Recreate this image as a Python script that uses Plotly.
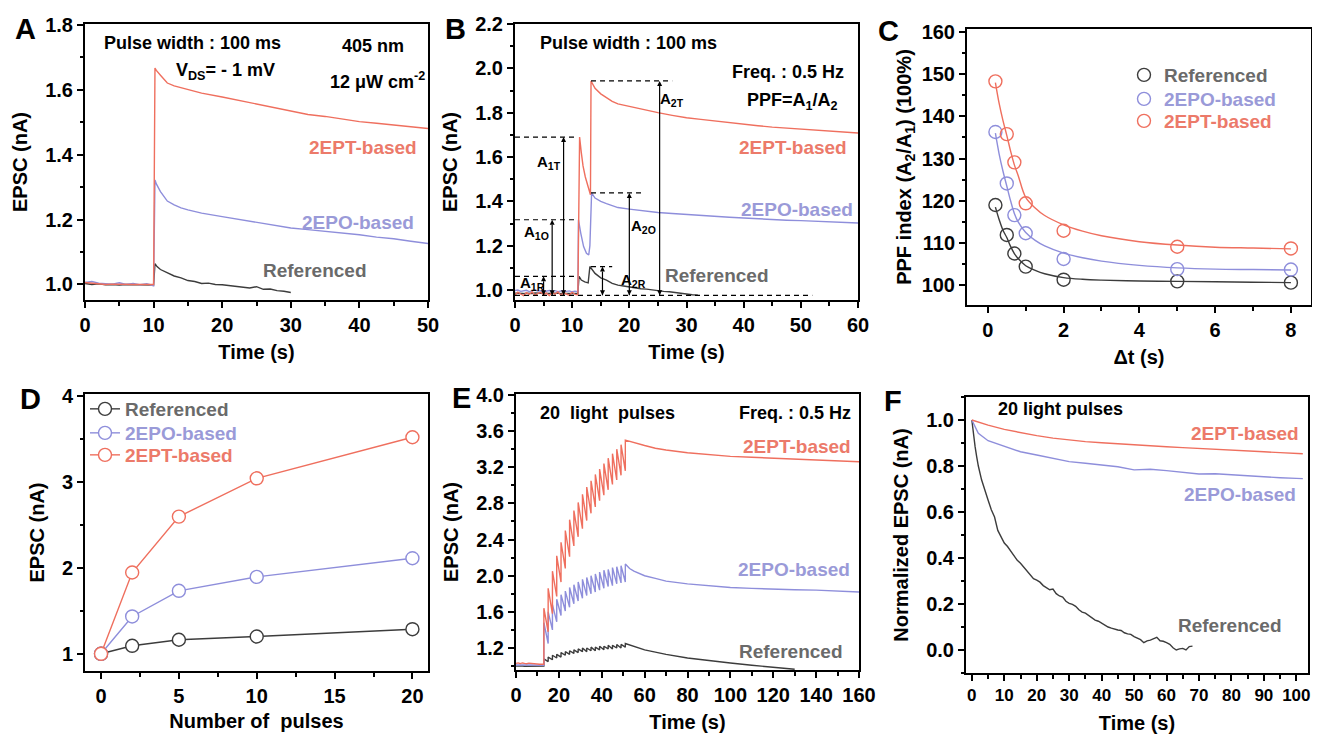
import plotly.graph_objects as go

FONT = "Liberation Sans, Arial, sans-serif"
RED = "#EF6F5E"
BLUE = "#8E8EDB"
GRAY = "#3C3C3C"
RED_T = "#EC7A6A"
BLUE_T = "#9A9AD8"
GRAY_T = "#6A6A6A"
# the page body has an 8 px margin, so the figure is placed 8 px in from the window corner
OFF = 8
W, H = 1320 - OFF, 734 - OFF

# ---------------- Panel A data ----------------
a_t = [0, 1, 2, 3, 4, 5, 6, 7, 8, 9, 10, 10.2, 10.4, 11, 12, 13, 14, 15, 17, 20, 22.5, 25, 27.5,
       30, 32.5, 35, 37.5, 40, 42.5, 45, 47.5, 50]
a_ept = [1.006, 1.004, 1.002, 1.0, 1.001, 1.0, 0.999, 1.0, 1.0, 0.999, 1.0, 1.667, 1.66, 1.645, 1.621,
         1.612, 1.606, 1.601, 1.59, 1.578, 1.567, 1.556, 1.544, 1.533, 1.524, 1.518, 1.51, 1.502,
         1.497, 1.491, 1.486, 1.481]
a_epo = [1.006, 1.009, 1.004, 1.003, 1.001, 1.005, 1.0, 1.003, 0.999, 1.002, 0.996, 1.322, 1.31,
         1.286, 1.257, 1.245, 1.236, 1.23, 1.22, 1.209, 1.2, 1.193, 1.183, 1.174, 1.169, 1.164,
         1.158, 1.153, 1.146, 1.141, 1.133, 1.126]
a_t_ref = [0, 1, 2, 3, 4, 5, 6, 7, 8, 9, 10, 10.2, 10.5, 11, 12, 13, 14, 15, 16, 17, 18, 19, 20,
           21, 22, 23, 24, 25, 26, 27, 28, 29, 30]
a_ref = [1.003, 1.0, 1.002, 0.999, 1.0, 0.998, 1.0, 0.999, 0.998, 0.999, 0.998, 1.064, 1.055,
         1.046, 1.035, 1.026, 1.02, 1.012, 1.009, 1.003, 1.004, 1.0, 0.999, 0.997, 0.995, 0.992,
         0.989, 0.993, 0.985, 0.986, 0.981, 0.979, 0.975]

# ---------------- Panel B data ----------------
b_base_t = [0, 0.5, 1, 1.5, 2, 2.5, 3, 3.5, 4, 4.5, 5, 5.5, 6, 6.5, 7, 7.5, 8, 8.5, 9, 9.5, 10,
            10.5, 11]
b_ept_base = [0.978, 0.99, 0.982, 0.975, 0.988, 0.98, 0.992, 0.976, 0.985, 0.99, 0.979, 0.986,
              0.975, 0.989, 0.981, 0.992, 0.977, 0.987, 0.982, 0.976, 0.99, 0.98, 0.978]
b_epo_base = [0.998, 1.0, 0.994, 0.997, 0.999, 0.993, 0.996, 1.0, 0.995, 0.997, 0.992, 0.996,
              0.998, 0.994, 0.997, 0.993, 0.995, 0.998, 0.994, 0.996, 0.992, 0.995, 0.993]
b_ref_base = [0.986, 0.985, 0.987, 0.984, 0.986, 0.985, 0.984, 0.987, 0.985, 0.986, 0.984, 0.985,
              0.986, 0.984, 0.985, 0.986, 0.984, 0.985, 0.986, 0.985, 0.984, 0.986, 0.985]
b_ept_t = [11.3, 11.6, 11.9, 12.3, 12.8, 13.2, 13.3, 14, 15, 16, 17, 18, 20, 22.5, 25, 27.5, 30,
           32.5, 35, 37.5, 40, 42.5, 45, 47.5, 50, 52.5, 55, 57.5, 60]
b_ept = [1.69, 1.62, 1.56, 1.51, 1.46, 1.43, 1.943, 1.91, 1.885, 1.866, 1.851, 1.84, 1.828, 1.812,
         1.8, 1.788, 1.777, 1.77, 1.762, 1.755, 1.747, 1.741, 1.735, 1.731, 1.727, 1.722, 1.717,
         1.713, 1.708]
b_epo_t = [11.1, 11.5, 12, 12.5, 12.9, 13.1, 13.4, 14, 15, 16, 17, 18, 20, 22.5, 25, 27.5, 30,
           32.5, 35, 37.5, 40, 42.5, 45, 47.5, 50, 52.5, 55, 57.5, 60]
b_epo = [1.317, 1.257, 1.196, 1.166, 1.158, 1.2, 1.438, 1.415, 1.4, 1.39, 1.38, 1.372, 1.365,
         1.357, 1.35, 1.345, 1.34, 1.336, 1.332, 1.328, 1.325, 1.321, 1.317, 1.315, 1.313, 1.311,
         1.308, 1.305, 1.302]
b_ref_t = [11.2, 11.6, 12.2, 12.8, 13.1, 13.5, 14, 15, 16, 17, 18, 19, 20, 21, 22, 23, 24, 25, 26,
           27, 28, 29, 30, 31, 32]
b_ref = [1.062, 1.045, 1.037, 1.032, 1.106, 1.09, 1.075, 1.055, 1.045, 1.03, 1.022, 1.018, 1.013,
         1.01, 1.006, 1.004, 1.0, 0.997, 0.994, 0.992, 0.988, 0.985, 0.982, 0.979, 0.977]
# amplitude guides (A1 / A2 for R, O, T)
b_base_level = 0.976
b_base_end = 52
b_a1_levels = [1.062, 1.317, 1.69]
b_a1_x = [5.0, 6.5, 8.5]
b_a1_end = 11
b_a2_start = 13.3
b_a2_levels = [1.106, 1.438, 1.943]
b_a2_x = [15.3, 20.0, 25.3]
b_a2_end = [17.0, 22.5, 27.5]
b_a1_labels = ["A<sub>1R</sub>", "A<sub>1O</sub>", "A<sub>1T</sub>"]
b_a2_labels = ["A<sub>2R</sub>", "A<sub>2O</sub>", "A<sub>2T</sub>"]
b_a1_lab_xy = [(3.1, 1.03), (3.8, 1.26), (5.9, 1.575)]
b_a2_lab_xy = [(20.8, 1.045), (22.4, 1.285), (27.5, 1.86)]

# ---------------- Panel C data ----------------
c_dt = [0.2, 0.5, 0.7, 1, 2, 5, 8]
c_ref = [119.0, 111.9, 107.5, 104.4, 101.3, 100.9, 100.6]
c_epo = [136.3, 124.1, 116.6, 112.3, 106.2, 103.8, 103.7]
c_ept = [148.3, 135.8, 129.1, 119.4, 112.9, 109.1, 108.7]
c_fit_t = [0.2, 0.3, 0.4, 0.5, 0.6, 0.7, 0.8, 1.0, 1.25, 1.5, 2, 2.5, 3, 4, 5, 6, 7, 8]
c_fit_ept = [148, 143, 139, 135.5, 131.8, 128.5, 126, 120.8, 118.3, 116.5, 114.3, 112.8, 111.7,
             110.3, 109.5, 109.0, 108.8, 108.6]
c_fit_epo = [136, 131, 127, 123.5, 120, 117, 115, 112.5, 110.6, 109.3, 107.6, 106.5, 105.7, 104.7,
             104.1, 103.8, 103.7, 103.6]
c_fit_ref = [118.5, 115.5, 113, 111.3, 109.2, 107.5, 106.3, 104.6, 103.5, 102.7, 101.8, 101.4,
             101.2, 101.0, 100.9, 100.8, 100.7, 100.6]

# ---------------- Panel D data ----------------
d_n = [0, 2, 5, 10, 20]
d_ref = [1.0, 1.093, 1.163, 1.201, 1.286]
d_epo = [1.0, 1.434, 1.732, 1.894, 2.111]
d_ept = [1.0, 1.945, 2.595, 3.04, 3.517]

# ---------------- Panel E data ----------------
e_pre_t = [0, 1, 2, 3, 4, 5, 6, 7, 8, 9, 10, 11, 12, 13]
e_ept_pre = [1.03, 1.036, 1.028, 1.035, 1.03, 1.026, 1.033, 1.029, 1.024, 1.027, 1.022, 1.02,
             1.021, 1.02]
e_epo_pre = [1.012, 1.016, 1.014, 1.012, 1.015, 1.011, 1.013, 1.012, 1.01, 1.012, 1.011, 1.01,
             1.011, 1.01]
e_ref_pre = [1.0, 1.002, 1.0, 1.001, 0.999, 1.0, 1.001, 1.0, 0.999, 1.0, 1.0, 0.999, 1.0, 1.0]
e_pulse_t = [13, 15, 17, 19, 21, 23, 25, 27, 29, 31, 33, 35, 37, 39, 41, 43, 45, 47, 49, 51]
e_ept_peak = [1.64, 1.86, 2.05, 2.22, 2.37, 2.5, 2.62, 2.72, 2.81, 2.9, 2.98, 3.05, 3.12, 3.18,
              3.24, 3.3, 3.35, 3.4, 3.45, 3.5]
e_ept_trough = [1.38, 1.58, 1.77, 1.93, 2.08, 2.21, 2.33, 2.43, 2.52, 2.61, 2.69, 2.76, 2.83,
                2.89, 2.95, 3.01, 3.06, 3.11, 3.16]
e_epo_peak = [1.48, 1.6, 1.68, 1.74, 1.79, 1.83, 1.87, 1.9, 1.93, 1.96, 1.98, 2.0, 2.02, 2.04,
              2.06, 2.07, 2.09, 2.1, 2.11, 2.13]
e_epo_trough = [1.25, 1.4, 1.49, 1.56, 1.61, 1.65, 1.69, 1.72, 1.75, 1.78, 1.8, 1.82, 1.84, 1.86,
                1.88, 1.89, 1.91, 1.92, 1.93]
e_ref_peak = [1.08, 1.1, 1.12, 1.13, 1.15, 1.16, 1.17, 1.18, 1.19, 1.2, 1.2, 1.21, 1.21, 1.22,
              1.22, 1.23, 1.23, 1.24, 1.24, 1.25]
e_ref_trough = [1.05, 1.07, 1.09, 1.1, 1.12, 1.13, 1.14, 1.15, 1.16, 1.16, 1.17, 1.17, 1.18, 1.18,
                1.19, 1.19, 1.2, 1.2, 1.21]
e_post_t = [53, 55, 60, 65, 70, 80, 90, 100, 110, 120, 130, 140, 150, 160]
e_ept_post = [3.485, 3.47, 3.44, 3.41, 3.39, 3.36, 3.34, 3.32, 3.31, 3.3, 3.29, 3.28, 3.27, 3.26]
e_epo_post = [2.08, 2.05, 2.0, 1.97, 1.94, 1.91, 1.89, 1.87, 1.86, 1.85, 1.845, 1.84, 1.83, 1.82]
e_ref_post_t = [53, 55, 60, 65, 70, 80, 90, 100, 110, 120, 130]
e_ref_post = [1.235, 1.22, 1.18, 1.155, 1.13, 1.09, 1.06, 1.035, 1.01, 0.988, 0.965]

# ---------------- Panel F data ----------------
f_t = [0, 2, 5, 10, 15, 20, 25, 30, 35, 40, 45, 50, 55, 60, 65, 70, 75, 80, 85, 90, 95, 100, 102]
f_ept = [1.0, 0.99, 0.978, 0.959, 0.944, 0.932, 0.921, 0.913, 0.906, 0.901, 0.896, 0.891, 0.887,
         0.884, 0.88, 0.877, 0.873, 0.87, 0.866, 0.862, 0.858, 0.855, 0.853]
f_epo = [1.0, 0.942, 0.91, 0.887, 0.862, 0.848, 0.833, 0.819, 0.812, 0.804, 0.797, 0.783, 0.786,
         0.78, 0.772, 0.765, 0.766, 0.761, 0.756, 0.751, 0.749, 0.746, 0.745]
f_ref_t = [0, 0.5, 1, 1.5, 2, 3, 4, 5, 6, 7, 8, 9, 10, 11, 12, 13, 14, 15, 16, 17, 18, 19, 20, 21,
           22, 23, 24, 25, 26, 27, 28, 29, 30, 31, 32, 33, 34, 35, 36, 37, 38, 39, 40, 41, 42, 43,
           44, 45, 46, 47, 48, 49, 50, 51, 52, 53, 54, 55, 56, 57, 58, 59, 60, 61, 62, 63, 64, 65,
           66, 67, 68]
f_ref = [1.0, 0.93, 0.884, 0.84, 0.8, 0.74, 0.69, 0.652, 0.61, 0.578, 0.52, 0.49, 0.465, 0.45,
         0.428, 0.41, 0.39, 0.377, 0.36, 0.345, 0.33, 0.31, 0.304, 0.295, 0.28, 0.27, 0.262, 0.265,
         0.245, 0.235, 0.23, 0.212, 0.203, 0.198, 0.19, 0.175, 0.165, 0.16, 0.15, 0.14, 0.13,
         0.125, 0.116, 0.11, 0.1, 0.095, 0.09, 0.087, 0.085, 0.075, 0.07, 0.068, 0.058, 0.05,
         0.045, 0.032, 0.04, 0.043, 0.05, 0.055, 0.04, 0.038, 0.032, 0.025, 0.01, 0.0, 0.005,
         0.007, 0.0, 0.015, 0.017]

SERIES = ["Referenced", "2EPO-based", "2EPT-based"]


def sawtooth(pre_t, pre_y, pulse_t, peaks, troughs, post_t, post_y):
    xs, ys = list(pre_t), list(pre_y)
    for k, t in enumerate(pulse_t):
        if k > 0:
            xs.append(t)
            ys.append(troughs[k - 1])
        xs.append(t)
        ys.append(peaks[k])
    return xs + list(post_t), ys + list(post_y)


fig = go.Figure()


def line(x, y, color, ax, width=1.4):
    fig.add_trace(go.Scatter(x=x, y=y, mode="lines", line=dict(color=color, width=width),
                             xaxis="x" + ax, yaxis="y" + ax, showlegend=False))


# A
line(a_t_ref, a_ref, GRAY, "")
line(a_t, a_epo, BLUE, "")
line(a_t, a_ept, RED, "")
# B
line(b_base_t + b_ref_t, b_ref_base + b_ref, GRAY, "2")
line(b_base_t + b_epo_t, b_epo_base + b_epo, BLUE, "2")
line(b_base_t + b_ept_t, b_ept_base + b_ept, RED, "2")
# B double-headed amplitude arrows
for xs_, lv_ in [(b_a1_x, b_a1_levels), (b_a2_x, b_a2_levels)]:
    for xa, lvl in zip(xs_, lv_):
        fig.add_trace(go.Scatter(x=[xa, xa], y=[b_base_level, lvl], mode="lines+markers",
                                 line=dict(color="black", width=1.2),
                                 marker=dict(symbol=["arrow-down", "arrow-up"], size=5,
                                             color="black"),
                                 xaxis="x2", yaxis="y2", showlegend=False))
# C
for fit, col in [(c_fit_ref, GRAY), (c_fit_epo, BLUE), (c_fit_ept, RED)]:
    fig.add_trace(go.Scatter(x=c_fit_t, y=fit, mode="lines",
                             line=dict(color=col, width=1.4, shape="spline"),
                             xaxis="x3", yaxis="y3", showlegend=False))
for i, (pts, col, tcol) in enumerate([(c_ref, GRAY, GRAY_T), (c_epo, BLUE, BLUE_T),
                                      (c_ept, RED, RED_T)]):
    fig.add_trace(go.Scatter(x=c_dt, y=pts, mode="markers",
                             marker=dict(symbol="circle", size=13, color="rgba(255,255,255,0)",
                                         line=dict(width=1.4, color=col)),
                             name=f"<span style='color:{tcol}'>{SERIES[i]}</span>",
                             xaxis="x3", yaxis="y3",
                             legend="legend" if i == 0 else f"legend{i + 1}"))
# D
for i, (pts, col, tcol) in enumerate([(d_ref, GRAY, GRAY_T), (d_epo, BLUE, BLUE_T),
                                      (d_ept, RED, RED_T)]):
    fig.add_trace(go.Scatter(x=d_n, y=pts, mode="lines+markers",
                             line=dict(color=col, width=1.4),
                             marker=dict(symbol="circle", size=13, color="white",
                                         line=dict(width=1.4, color=col)),
                             name=f"<span style='color:{tcol}'>{SERIES[i]}</span>",
                             xaxis="x4", yaxis="y4", legend=f"legend{i + 4}"))
# E
ex, ey = sawtooth(e_pre_t, e_ref_pre, e_pulse_t, e_ref_peak, e_ref_trough, e_ref_post_t, e_ref_post)
line(ex, ey, GRAY, "5")
ex, ey = sawtooth(e_pre_t, e_epo_pre, e_pulse_t, e_epo_peak, e_epo_trough, e_post_t, e_epo_post)
line(ex, ey, BLUE, "5")
ex, ey = sawtooth(e_pre_t, e_ept_pre, e_pulse_t, e_ept_peak, e_ept_trough, e_post_t, e_ept_post)
line(ex, ey, RED, "5")
# F
line(f_ref_t, f_ref, GRAY, "6")
line(f_t, f_epo, BLUE, "6")
line(f_t, f_ept, RED, "6")


# helpers: convert window pixel positions to paper fractions
def px(x):
    return (x - OFF) / W


def py(y):
    return 1 - (y - OFF) / H


def dom_x(l, r):
    return [px(l), px(r)]


def dom_y(top, bottom):
    return [py(bottom), py(top)]


def axis(domain, rng, dtick, minor, anchor, title=None, standoff=None, tick0=None, fmt=None,
         tsize=20):
    d = dict(domain=domain, range=rng, dtick=dtick, anchor=anchor, automargin=False,
             showline=True, linewidth=2, linecolor="black", mirror=True, ticks="outside",
             ticklen=6, tickwidth=1.8, tickcolor="black", showgrid=False, zeroline=False,
             ticklabeloverflow="allow",
             minor=dict(ticks="outside", ticklen=3.5, tickwidth=1.5, dtick=minor,
                        tickcolor="black"),
             tickfont=dict(family=FONT, size=tsize, color="black", weight="bold"))
    if tick0 is not None:
        d["tick0"] = tick0
        d["minor"]["tick0"] = tick0
    if fmt:
        d["tickformat"] = fmt
    if title:
        d["title"] = dict(text=title, font=dict(family=FONT, size=20, color="black",
                                                 weight="bold"), standoff=standoff)
    return d


def legend_at(x, y):
    return dict(x=px(x), y=py(y), xanchor="left", yanchor="middle",
                bgcolor="rgba(0,0,0,0)", borderwidth=0,
                font=dict(family=FONT, size=19, color="black", weight="bold"))


layout = dict(
    template="none",
    width=W, height=H, margin=dict(l=0, r=0, t=0, b=0, pad=0), paper_bgcolor="white",
    plot_bgcolor="white", font=dict(family=FONT, color="black"),
    xaxis=axis(dom_x(85, 428), [0, 50], 10, 5, "y", "Time (s)", 10),
    yaxis=axis(dom_y(24, 300), [0.952, 1.803], 0.2, 0.1, "x", "EPSC (nA)", 12, tick0=1.0,
               fmt=".1f"),
    xaxis2=axis(dom_x(515, 858), [0, 60], 10, 5, "y2", "Time (s)", 10),
    yaxis2=axis(dom_y(24, 300), [0.955, 2.2], 0.2, 0.1, "x2", "EPSC (nA)", 12, tick0=1.0,
                fmt=".1f"),
    xaxis3=axis(dom_x(967, 1311), [-0.55, 8.53], 2, 1, "y3", "\u0394t (s)", 10),
    yaxis3=axis(dom_y(29, 305), [95.3, 160.7], 10, 5, "x3",
                "PPF index (A<sub>2</sub>/A<sub>1</sub>) (100%)", 5),
    xaxis4=axis(dom_x(85, 428), [-1.03, 21.0], 5, 2.5, "y4", "Number of\u00a0 pulses", 8),
    yaxis4=axis(dom_y(394, 671), [0.8, 4.02], 1, 0.5, "x4", "EPSC (nA)", 12),
    xaxis5=axis(dom_x(516, 859), [0, 160], 20, 10, "y5", "Time (s)", 10),
    yaxis5=axis(dom_y(394, 670), [0.957, 4.01], 0.4, 0.2, "x5", "EPSC (nA)", 12, tick0=1.2,
                fmt=".1f"),
    xaxis6=axis(dom_x(966, 1308), [-1.8, 103.6], 10, 5, "y6", "Time (s)", 12, tsize=17),
    yaxis6=axis(dom_y(397, 673), [-0.1, 1.1], 0.2, 0.1, "x6", "Normalized EPSC (nA)", 12,
                fmt=".1f"),
    legend=legend_at(1124, 75), legend2=legend_at(1124, 99), legend3=legend_at(1124, 121),
    legend4=legend_at(85, 409), legend5=legend_at(85, 433), legend6=legend_at(85, 455),
)
fig.update_layout(**layout)


def txt(s, x, y, size=19, color="black", xanchor="center"):
    return dict(text=s, x=px(x), y=py(y), xref="paper", yref="paper", showarrow=False,
                xanchor=xanchor, yanchor="middle",
                font=dict(family=FONT, size=size, color=color, weight="bold"))


ann = [
    txt("A", 25, 29, 29), txt("B", 455, 29, 29), txt("C", 888, 31, 29),
    txt("D", 30, 399, 29), txt("E", 461, 398, 29), txt("F", 893, 401, 29),
    # A
    txt("Pulse width : 100 ms", 192, 43, 18), txt("405 nm", 373, 46, 18),
    txt("V<sub>DS</sub>= - 1 mV", 225, 71, 18), txt("12 \u03bcW cm<sup>-2</sup>", 378, 80, 18),
    txt("2EPT-based", 363, 147, 19, RED_T), txt("2EPO-based", 358, 222, 19, BLUE_T),
    txt("Referenced", 315, 270, 19, GRAY_T),
    # B
    txt("Pulse width : 100 ms", 628, 43, 18), txt("Freq. : 0.5 Hz", 788, 72, 18),
    txt("PPF=A<sub>1</sub>/A<sub>2</sub>", 793, 101, 18),
    txt("2EPT-based", 793, 147, 19, RED_T), txt("2EPO-based", 797, 209, 19, BLUE_T),
    txt("Referenced", 717, 275, 19, GRAY_T),
    # E
    txt("20\u00a0 light\u00a0 pulses", 607, 413, 18), txt("Freq. : 0.5 Hz", 795, 413, 18),
    txt("2EPT-based", 797, 447, 19, RED_T), txt("2EPO-based", 794, 569, 19, BLUE_T),
    txt("Referenced", 791, 651, 19, GRAY_T),
    # F
    txt("20 light pulses", 1060, 409, 18),
    txt("2EPT-based", 1245, 433, 19, RED_T), txt("2EPO-based", 1240, 494, 19, BLUE_T),
    txt("Referenced", 1230, 625, 19, GRAY_T),
]
for lab, (lx, ly) in zip(b_a1_labels + b_a2_labels, b_a1_lab_xy + b_a2_lab_xy):
    ann.append(dict(x=lx, y=ly, xref="x2", yref="y2", text=lab, showarrow=False,
                    font=dict(family=FONT, size=15, color="black", weight="bold")))

shapes = []
dash = dict(color="black", width=1.2, dash="5px,4px")
shapes.append(dict(type="line", xref="x2", yref="y2", x0=0, x1=b_base_end, y0=b_base_level,
                   y1=b_base_level, line=dash))
for lvl in b_a1_levels:
    shapes.append(dict(type="line", xref="x2", yref="y2", x0=0, x1=b_a1_end, y0=lvl, y1=lvl,
                       line=dash))
for lvl, xe in zip(b_a2_levels, b_a2_end):
    shapes.append(dict(type="line", xref="x2", yref="y2", x0=b_a2_start, x1=xe, y0=lvl, y1=lvl,
                       line=dash))

fig.update_layout(annotations=ann, shapes=shapes)
fig.write_html("out.html")
